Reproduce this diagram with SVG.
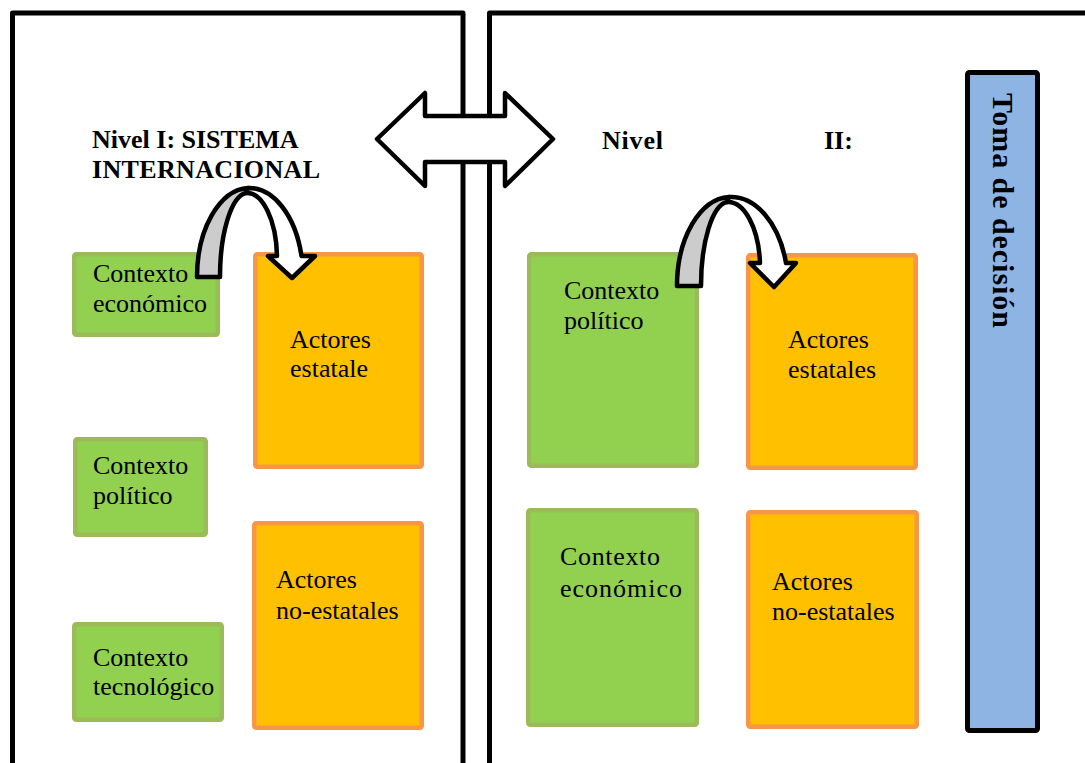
<svg xmlns="http://www.w3.org/2000/svg" width="1085" height="763" viewBox="0 0 1085 763">
<style>
.panel{fill:none;stroke:#000;stroke-width:5;stroke-linejoin:round}
.ctx{fill:#92D050;stroke:#9BBB59;stroke-width:4.5}
.act{fill:#FFC000;stroke:#F79646;stroke-width:4.5}
.t{font-family:"Liberation Serif","Times New Roman",serif;font-size:26px;fill:#000}
.b{font-weight:bold}
.arr{stroke:#000;stroke-width:4.5;stroke-linejoin:round}
</style>
<rect width="1085" height="763" fill="#fff"/>
<g id="panel-nivel1"><path class="panel" d="M12.5,770 V13 H463 V770"/></g>
<g id="panel-nivel2"><path class="panel" d="M489.5,770 V13 H1095"/></g>

<g id="title-nivel1">
<text class="t b" x="92" y="148">Nivel I: SISTEMA</text>
<text class="t b" x="92" y="178" textLength="228">INTERNACIONAL</text>
</g>
<g id="title-nivel2">
<text class="t b" x="602" y="149" textLength="61">Nivel</text>
<text class="t b" x="824" y="149">II:</text>
</g>

<g id="ctx-eco-1"><rect class="ctx" x="74.25" y="254.25" width="143.5" height="80.5" rx="2"/>
<text class="t" x="93" y="282">Contexto</text><text class="t" x="93" y="312">económico</text></g>
<g id="act-est-1"><rect class="act" x="255.25" y="254.25" width="166.5" height="212.5" rx="2"/>
<text class="t" x="290" y="348">Actores</text><text class="t" x="290" y="377">estatale</text></g>
<g id="ctx-pol-1"><rect class="ctx" x="75.25" y="439.25" width="130.5" height="95.5" rx="2"/>
<text class="t" x="93" y="474">Contexto</text><text class="t" x="93" y="504">político</text></g>
<g id="ctx-tec-1"><rect class="ctx" x="74.25" y="624.25" width="147.5" height="95.5" rx="2"/>
<text class="t" x="93" y="666">Contexto</text><text class="t" x="93" y="695">tecnológico</text></g>
<g id="act-noest-1"><rect class="act" x="254.25" y="523.25" width="167.5" height="204.5" rx="2"/>
<text class="t" x="276" y="588">Actores</text><text class="t" x="276" y="619">no-estatales</text></g>

<g id="ctx-pol-2"><rect class="ctx" x="529.25" y="254.25" width="167.5" height="211.5" rx="2"/>
<text class="t" x="564" y="299">Contexto</text><text class="t" x="564" y="329">político</text></g>
<g id="act-est-2"><rect class="act" x="748.25" y="255.25" width="167.5" height="212.5" rx="2"/>
<text class="t" x="788" y="348">Actores</text><text class="t" x="788" y="378">estatales</text></g>
<g id="ctx-eco-2"><rect class="ctx" x="528.25" y="510.25" width="168.5" height="214.5" rx="2"/>
<text class="t" x="560" y="565" textLength="100">Contexto</text><text class="t" x="560" y="597" textLength="122">económico</text></g>
<g id="act-noest-2"><rect class="act" x="748.25" y="512.25" width="168.5" height="214.5" rx="2"/>
<text class="t" x="772" y="590">Actores</text><text class="t" x="772" y="620">no-estatales</text></g>

<g id="toma-decision"><rect x="967.5" y="72.5" width="70" height="658" fill="#8EB4E3" stroke="#000" stroke-width="5" rx="2"/>
<text class="t b" transform="translate(993,93) rotate(90)" x="0" y="0" style="font-size:30px" textLength="235">Toma de decisión</text></g>

<g id="connectors">
<path class="arr" fill="#fff" d="M377,139 L425,93 L425,116 L505,116 L505,93 L553,139 L505,186 L505,162 L425,162 L425,186 Z"/>
<path class="arr" fill="#CCCCCC" d="M197,277 A53,89 0 0 1 248,188 L246,193 A28,84 0 0 0 220,277 Z"/>
<path class="arr" fill="#fff" d="M248,188 A54,89 0 0 1 301.5,256 L315,256 L292,278 L268,256 L277,256 A30,66 0 0 0 246,193 Z"/>
<path class="arr" fill="#CCCCCC" d="M677,286 A54,89 0 0 1 729,197 L727,202 A28,84 0 0 0 701,286 Z"/>
<path class="arr" fill="#fff" d="M729,197 A57,89 0 0 1 786,263 L796,263 L774,287 L750,263 L760,263 A32,66 0 0 0 727,202 Z"/>
</g>
</svg>
